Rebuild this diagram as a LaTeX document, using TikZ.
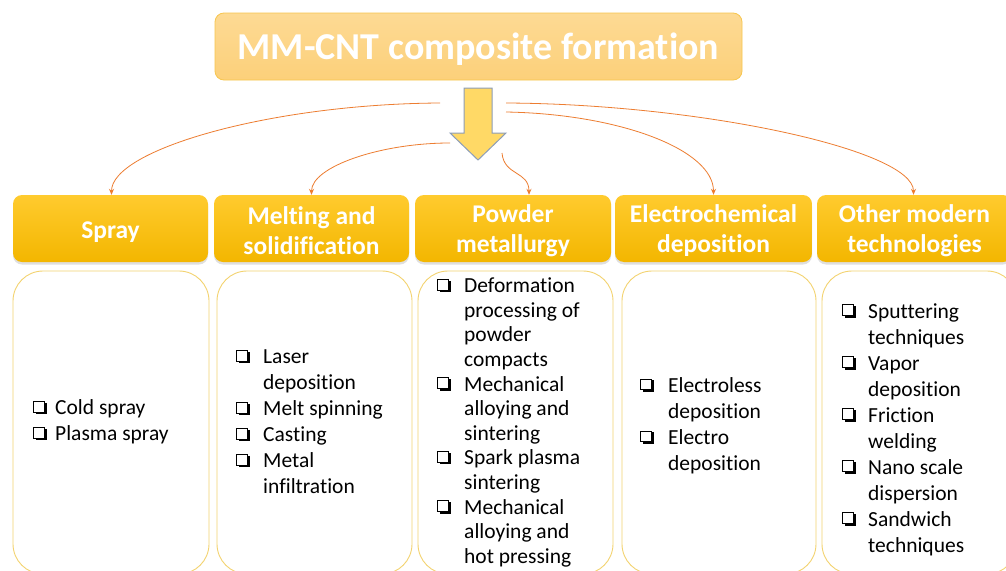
\documentclass[tikz,border=0pt]{standalone}
\usepackage{fontspec}
\setmainfont{Carlito}[Ligatures={TeX,NoCommon}]
\usetikzlibrary{shadows,arrows.meta,calc}
\definecolor{titletop}{HTML}{FDDA94}
\definecolor{titlebot}{HTML}{FCD07A}
\definecolor{titleborder}{HTML}{F7C64F}
\definecolor{hdrtop}{HTML}{FFCB2E}
\definecolor{hdrbot}{HTML}{F3B600}
\definecolor{boxborder}{HTML}{F3D370}
\definecolor{conncol}{HTML}{ED7D31}
\definecolor{arrfill}{HTML}{FFD966}
\definecolor{arrdraw}{HTML}{8C9DB8}
\newcommand{\chkglyph}{\begingroup\fboxsep=0pt\fboxrule=1pt%
  \rlap{\hspace{2.6pt}\raisebox{0.5pt}{\rule{11.6pt}{11.6pt}}}%
  \raisebox{3.1pt}{\fcolorbox{black}{white}{\rule{0pt}{9.6pt}\hspace{9.6pt}}}\endgroup}
\newcommand{\cbx}[1]{\makebox[#1][l]{\chkglyph}}
\newcommand{\ind}{\hspace*{27pt}}
\begin{document}
\begin{tikzpicture}[x=1pt,y=-1pt,
  titlebox/.style={rounded corners=9pt, draw=titleborder, line width=0.8pt,
    top color=titletop, bottom color=titlebot, minimum width=527pt, minimum height=67pt,
    inner sep=0pt, font=\fontsize{38}{44}\selectfont\bfseries, text=white},
  hdr/.style={rounded corners=9pt, top color=hdrtop, bottom color=hdrbot, draw=none,
    minimum height=67pt, inner sep=0pt, align=center, text=white,
    font=\fontsize{25.5}{30}\selectfont\bfseries,
    drop shadow={shadow xshift=0pt, shadow yshift=-2.5pt, opacity=0.25}},
  listbox/.style={rounded corners=30pt, draw=boxborder, line width=0.9pt, fill=white,
    minimum height=303pt, inner sep=0pt},
  body/.style={font=\fontsize{21.5}{26}\selectfont, align=left, inner sep=0pt, anchor=west},
  bodytight/.style={body, font=\fontsize{21.5}{24.6}\selectfont},
  conn/.style={draw=conncol, line width=0.8pt, -{Stealth[length=6pt,width=5pt]}}]
\useasboundingbox (0,0) rectangle (1006,570);
\fill[white] (0,0) rectangle (1006,570);
\clip (0,0) rectangle (1006,570);

% title
\node[titlebox] (title) at (478.5,46.5) {\rule{0pt}{32pt}MM-CNT composite formation};

% block arrow
\draw[fill=arrfill, draw=arrdraw, line width=1pt]
  (464,88) -- (492,88) -- (492,133) -- (506,133) -- (478,160) -- (450,133) -- (464,133) -- cycle;

% headers
\node[hdr, minimum width=195pt] (h1) at (110.5,228.5) {\rule{0pt}{24pt}Spray};
\node[hdr, minimum width=195pt] (h2) at (311.5,228.5) {\rule{0pt}{21.5pt}Melting and\\solidification};
\node[hdr, minimum width=196pt] (h3) at (513,228.5) {\rule{0pt}{21.5pt}Powder\\metallurgy};
\node[hdr, minimum width=197pt] (h4) at (713.5,228.5) {\rule{0pt}{21.5pt}Electrochemical\\deposition};
\node[hdr, minimum width=195pt] (h5) at (914.5,228.5) {\rule{0pt}{21.5pt}Other modern\\technologies};

% list boxes
\node[listbox, minimum width=196pt] (b1) at (111,422.5) {};
\node[listbox, minimum width=195pt] (b2) at (314.5,422.5) {};
\node[listbox, minimum width=195pt] (b3) at (515.5,422.5) {};
\node[listbox, minimum width=194pt] (b4) at (719,422.5) {};
\node[listbox, minimum width=195pt] (b5) at (919.5,422.5) {};

% list texts
\node[body] (t1) at (33,422) {\cbx{22pt}Cold spray\\ \cbx{22pt}Plasma spray};
\node[body] (t2) at (236,422) {\cbx{27pt}Laser\\ \ind deposition\\ \cbx{27pt}Melt spinning\\ \cbx{27pt}Casting\\ \cbx{27pt}Metal\\ \ind infiltration};
\node[bodytight] (t3) at (437,422.5) {\cbx{27pt}Deformation\\ \ind processing of\\ \ind powder\\ \ind compacts\\ \cbx{27pt}Mechanical\\ \ind alloying and\\ \ind sintering\\ \cbx{27pt}Spark plasma\\ \ind sintering\\ \cbx{27pt}Mechanical\\ \ind alloying and\\ \ind hot pressing};
\node[body] (t4) at (640,425.5) {\cbx{28pt}Electroless\\ \hspace*{28pt}deposition\\ \cbx{28pt}Electro\\ \hspace*{28pt}deposition};
\node[body] (t5) at (842,429.5) {\cbx{26pt}Sputtering\\ \hspace*{26pt}techniques\\ \cbx{26pt}Vapor\\ \hspace*{26pt}deposition\\ \cbx{26pt}Friction\\ \hspace*{26pt}welding\\ \cbx{26pt}Nano scale\\ \hspace*{26pt}dispersion\\ \cbx{26pt}Sandwich\\ \hspace*{26pt}techniques};

% connector start points
\coordinate (s1) at (440,103);
\coordinate (s2) at (450,143);
\coordinate (s3) at (502,153);
\coordinate (s4) at (506,112);
\coordinate (s5) at (506,103);

\draw[conn] (s1) .. controls (270,104) and ($(h1.north)+(1,-45)$) .. ([xshift=1pt]h1.north);
\draw[conn] (s2) .. controls (380,143) and ($(h2.north)+(0,-28)$) .. (h2.north);
\draw[conn] (s3) .. controls (504,176) and ($(h3.north)+(16,-24)$) .. ([xshift=16pt]h3.north);
\draw[conn] (s4) .. controls (620,114) and ($(h4.north)+(0,-45)$) .. (h4.north);
\draw[conn] (s5) .. controls (700,104) and ($(h5.north)+(-1,-45)$) .. ([xshift=-1pt]h5.north);
\end{tikzpicture}
\end{document}
